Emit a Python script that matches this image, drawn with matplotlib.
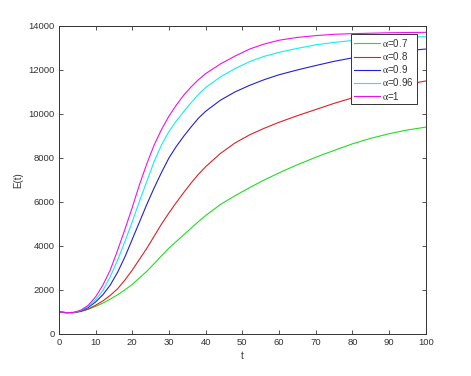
import matplotlib
matplotlib.use('Agg')
import matplotlib.pyplot as plt

plt.rcParams['font.family'] = ['Liberation Sans', 'DejaVu Sans']
plt.rcParams['mathtext.fontset'] = 'stix'

# Tid
t = [0, 2, 4, 6, 8, 10, 12, 14, 16, 18, 20, 22, 24, 26, 28, 30, 32, 34, 36,
     38, 40, 44, 48, 52, 56, 60, 65, 70, 75, 80, 85, 90, 95, 100]

# E(t) for ulike alpha
E_07 = [1000, 970, 975, 1030, 1120, 1250, 1400, 1580, 1780, 2000, 2250, 2550,
        2850, 3200, 3550, 3900, 4200, 4500, 4800, 5100, 5380, 5880, 6280, 6650,
        7000, 7320, 7690, 8030, 8340, 8640, 8890, 9100, 9270, 9400]
E_08 = [1000, 965, 965, 1020, 1130, 1300, 1500, 1750, 2050, 2450, 2900, 3400,
        3900, 4450, 5000, 5500, 5970, 6420, 6850, 7250, 7600, 8200, 8680, 9050,
        9350, 9620, 9920, 10200, 10480, 10730, 10950, 11150, 11340, 11500]
E_09 = [1000, 965, 965, 1040, 1200, 1450, 1780, 2220, 2800, 3500, 4300, 5100,
        5900, 6650, 7350, 8000, 8520, 8980, 9400, 9800, 10120, 10620, 11000,
        11300, 11560, 11780, 12000, 12200, 12390, 12550, 12680, 12790, 12880,
        12950]
E_096 = [1000, 965, 970, 1060, 1250, 1550, 1970, 2600, 3350, 4200, 5100, 6050,
         6950, 7850, 8600, 9200, 9680, 10100, 10500, 10880, 11200, 11680, 12060,
         12380, 12620, 12800, 12980, 13140, 13250, 13340, 13400, 13450, 13490,
         13510]
E_1 = [1000, 965, 975, 1080, 1300, 1680, 2220, 2900, 3800, 4750, 5750, 6800,
       7750, 8600, 9300, 9900, 10400, 10850, 11220, 11550, 11830, 12270, 12630,
       12950, 13180, 13350, 13480, 13560, 13620, 13650, 13670, 13690, 13700,
       13710]

fig = plt.figure(figsize=(4.71, 3.76), dpi=100)
ax = fig.add_axes([0.125, 0.112, 0.779, 0.819])

ax.plot(t, E_07, color='#22dd22', lw=0.8, label=r'$\mathrm{\alpha}$=0.7')
ax.plot(t, E_08, color='#dd2222', lw=0.8, label=r'$\mathrm{\alpha}$=0.8')
ax.plot(t, E_09, color='#2222cc', lw=0.8, label=r'$\mathrm{\alpha}$=0.9')
ax.plot(t, E_096, color='#11eeee', lw=0.8, label=r'$\mathrm{\alpha}$=0.96')
ax.plot(t, E_1, color='#ee11ee', lw=0.8, label=r'$\mathrm{\alpha}$=1')

ax.set_xlim(0, 100)
ax.set_ylim(0, 14000)
ax.set_xticks(range(0, 101, 10))
ax.set_yticks(range(0, 14001, 2000))
ax.tick_params(direction='in', length=3, width=0.6, top=True, right=True,
               labelsize=6.8, colors='#333333', pad=3)
for s in ax.spines.values():
    s.set_color('#333333')
    s.set_linewidth(0.7)

ax.set_xlabel('t', fontsize=7, color='#333333', labelpad=3)
ax.set_ylabel('E(t)', fontsize=7, color='#333333', labelpad=4)

leg = ax.legend(loc='upper right', bbox_to_anchor=(0.975, 0.974),
                borderaxespad=0, fontsize=7, handlelength=2.6,
                fancybox=False, framealpha=1, labelspacing=0.12,
                borderpad=0.3, handletextpad=0.25)
leg.get_frame().set_edgecolor('#333333')
leg.get_frame().set_linewidth(0.7)
for txt in leg.get_texts():
    txt.set_color('#333333')

fig.savefig('out.png', dpi=100)
